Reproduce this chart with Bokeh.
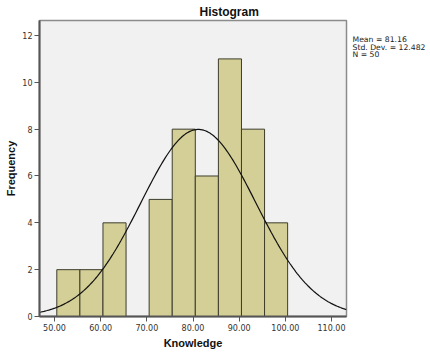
import math
from bokeh.plotting import figure
from bokeh.models import Range1d, FixedTicker, PrintfTickFormatter, LinearAxis
from bokeh.embed import file_html
from bokeh.resources import INLINE

# ---- data ----
bin_left = [50.5, 55.5, 60.5, 65.5, 70.5, 75.5, 80.5, 85.5, 90.5, 95.5]
counts = [2, 2, 4, 0, 5, 8, 6, 11, 8, 4]
bin_width = 5.0
mean = 81.16
std_dev = 12.482
n_obs = 50
x_ticks = [50, 60, 70, 80, 90, 100, 110]
y_ticks = [0, 2, 4, 6, 8, 10, 12]
stats_lines = ["Mean = 81.16", "Std. Dev. = 12.482", "N = 50"]

X0, X1 = 46.75, 113.25
Y0, Y1 = 0, 12.64

p = figure(width=430, height=352, output_backend="svg", toolbar_location=None,
           x_range=Range1d(X0, X1), y_range=Range1d(Y0, Y1),
           min_border_left=39, min_border_right=84, min_border_top=18,
           min_border_bottom=36)
p.background_fill_color = "#f0f1f0"
p.border_fill_color = "white"
p.outline_line_color = "#8c8c8c"
p.outline_line_width = 1.5
p.xgrid.visible = False
p.ygrid.visible = False

rights = [b + bin_width for b in bin_left]
p.quad(left=bin_left, right=rights, bottom=0, top=counts,
       fill_color="#d4cf96", line_color="#3d3d2c", line_width=1)

# fitted normal curve from the stated mean / std. dev.
steps = 200
xs = [X0 + (X1 - X0) * i / steps for i in range(steps + 1)]
ys = [n_obs * bin_width / (std_dev * math.sqrt(2 * math.pi)) *
      math.exp(-0.5 * ((x - mean) / std_dev) ** 2) for x in xs]
p.line(xs, ys, line_color="#111111", line_width=1.2)

# title
p.title.text = "Histogram"
p.title.text_font = "Liberation Sans"
p.title.text_font_size = "12px"
p.title.text_font_style = "bold"
p.title.text_color = "#111111"
p.title.align = "left"
p.title.offset = 160
p.title.standoff = 4

for ax in (p.xaxis[0], p.yaxis[0]):
    ax.axis_line_color = "#555555"
    ax.axis_line_width = 2
    ax.major_tick_line_color = "#555555"
    ax.major_tick_line_width = 1
    ax.major_tick_in = 0
    ax.major_tick_out = 5
    ax.minor_tick_line_color = None
    ax.major_label_text_font = "DejaVu Sans"
    ax.major_label_text_font_size = "8px"
    ax.major_label_text_color = "#333333"
    ax.axis_label_text_font = "Liberation Sans"
    ax.axis_label_text_font_style = "bold"
    ax.axis_label_text_font_size = "11px"
    ax.axis_label_text_color = "#111111"

p.xaxis.ticker = FixedTicker(ticks=x_ticks)
p.xaxis.formatter = PrintfTickFormatter(format="%.2f")
p.yaxis.ticker = FixedTicker(ticks=y_ticks)
p.xaxis.major_label_standoff = 2
p.yaxis.major_label_standoff = 2
p.xaxis.axis_label = "Knowledge"
p.yaxis.axis_label = "Frequency"
p.xaxis.axis_label_standoff = 3
p.yaxis.axis_label_standoff = 2

# statistics text at the right: an unlined axis whose tick labels are the lines
# (reversed helper range: one unit per text line, 7.7 px apart)
p.extra_y_ranges = {"stats": Range1d(start=36.16, end=-2.5)}
stats_axis = LinearAxis(y_range_name="stats",
                        ticker=FixedTicker(ticks=list(range(len(stats_lines)))),
                        major_label_overrides={i: t for i, t in enumerate(stats_lines)},
                        axis_line_color=None, major_tick_line_color=None,
                        minor_tick_line_color=None, major_tick_in=0,
                        major_tick_out=0, major_label_standoff=6,
                        major_label_text_font="DejaVu Sans",
                        major_label_text_font_size="7.7px",
                        major_label_text_color="#222222")
p.add_layout(stats_axis, "right")

open("out.html", "w").write(file_html(p, INLINE))
